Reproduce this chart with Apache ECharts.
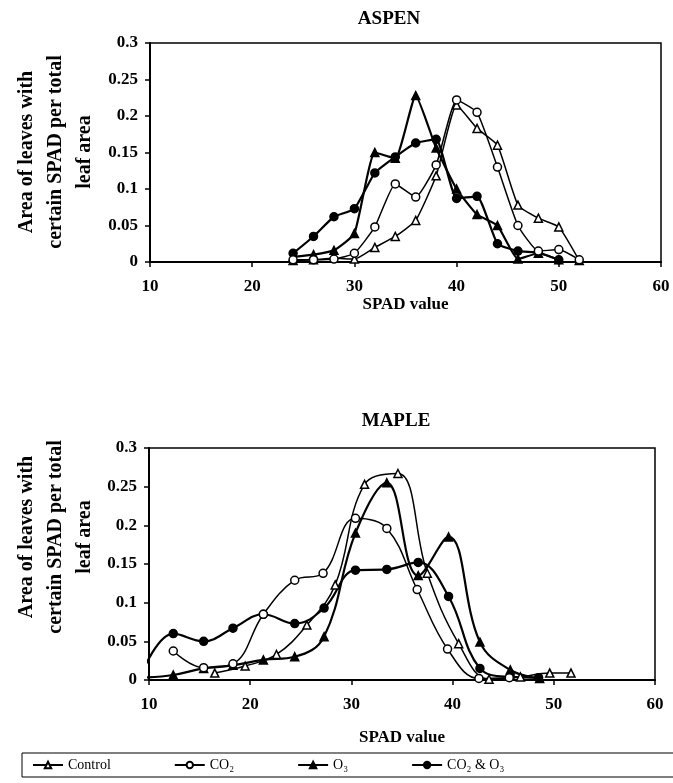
<!DOCTYPE html>
<html>
<head>
<meta charset="utf-8">
<script src="https://cdn.jsdelivr.net/npm/echarts@6/dist/echarts.min.js"></script>
<style>
  html, body { margin: 0; padding: 0; background: #fff; }
  #chart { width: 673px; height: 783px; }
</style>
</head>
<body>
<div id="chart"></div>
<script>
// ASPEN: all treatments share the same SPAD bins
const aspenX = [24, 26, 28, 30, 32, 34, 36, 38, 40, 42, 44, 46, 48, 50, 52]
const aspenControl = [0.002, 0.003, 0.005, 0.004, 0.02, 0.035, 0.057, 0.118, 0.215, 0.183, 0.16, 0.078, 0.06, 0.048, 0.002]
const aspenCO2 = [0.003, 0.003, 0.004, 0.012, 0.048, 0.107, 0.089, 0.133, 0.222, 0.205, 0.13, 0.05, 0.015, 0.017, 0.003]
const aspenO3 = [0.007, 0.01, 0.016, 0.039, 0.15, 0.142, 0.228, 0.156, 0.1, 0.065, 0.05, 0.004, 0.012, 0.003]
const aspenCO2O3 = [0.012, 0.035, 0.062, 0.073, 0.122, 0.144, 0.163, 0.168, 0.087, 0.09, 0.025, 0.015, 0.013, 0.003]

// MAPLE: each treatment has its own bins
const mapleControlX = [16.5, 19.5, 22.6, 25.6, 28.4, 31.3, 34.6, 37.5, 40.6, 43.6, 46.7, 49.6, 51.7]
const mapleControl = [0.009, 0.018, 0.033, 0.071, 0.123, 0.253, 0.267, 0.138, 0.047, 0.001, 0.004, 0.009, 0.009]
const mapleCO2X = [12.4, 15.4, 18.3, 21.3, 24.4, 27.2, 30.4, 33.5, 36.5, 39.5, 42.6, 45.6]
const mapleCO2 = [0.0375, 0.016, 0.021, 0.085, 0.129, 0.138, 0.209, 0.196, 0.117, 0.04, 0.002, 0.003]
const mapleO3X = [9.4, 12.4, 15.4, 18.3, 21.3, 24.4, 27.3, 30.4, 33.5, 36.6, 39.6, 42.7, 45.7, 48.6]
const mapleO3 = [0.003, 0.0065, 0.015, 0.019, 0.026, 0.03, 0.056, 0.19, 0.255, 0.135, 0.185, 0.049, 0.013, 0.002]
const mapleCO2O3X = [9.4, 12.4, 15.4, 18.3, 21.3, 24.4, 27.3, 30.4, 33.5, 36.6, 39.6, 42.7, 45.7, 48.5]
const mapleCO2O3 = [0.012, 0.06, 0.05, 0.067, 0.085, 0.073, 0.093, 0.142, 0.143, 0.152, 0.108, 0.015, 0.004, 0.003]

const seriesNames = ['Control', 'CO₂', 'O₃', 'CO₂ & O₃']
const yTitle = 'Area of leaves with\ncertain SPAD per total\nleaf area'

const serif = '"Liberation Serif", "Times New Roman", serif'

const looks = {
  'Control': { symbol: 'triangle', fill: '#fff', width: 1.5 },
  'CO₂': { symbol: 'circle', fill: '#fff', width: 1.5 },
  'O₃': { symbol: 'triangle', fill: '#000', width: 2.2 },
  'CO₂ & O₃': { symbol: 'circle', fill: '#000', width: 2.2 }
}

const pairs = (xs, ys) => ys.map((y, i) => [xs[i], y])

function makeSeries(name, data, idx, smooth) {
  const l = looks[name]
  return {
    type: 'line',
    name,
    xAxisIndex: idx,
    yAxisIndex: idx,
    data,
    smooth,
    symbol: l.symbol,
    symbolSize: 8,
    showAllSymbol: true,
    z: l.fill === '#fff' ? 3 : 2,
    lineStyle: { color: '#000', width: l.width },
    itemStyle: { color: l.fill, borderColor: '#000', borderWidth: 1.5 },
    emphasis: { disabled: true }
  }
}

function xAxisFor(idx, gap) {
  return {
    type: 'value',
    gridIndex: idx,
    min: 10,
    max: 60,
    interval: 10,
    name: 'SPAD value',
    nameLocation: 'middle',
    nameGap: gap,
    nameTextStyle: { color: '#000', fontFamily: serif, fontWeight: 'bold', fontSize: 17 },
    axisLine: { onZero: false, lineStyle: { color: '#000', width: 2 } },
    axisTick: { length: 5, lineStyle: { color: '#000', width: 1.5 } },
    axisLabel: { color: '#000', fontFamily: serif, fontWeight: 'bold', fontSize: 17, margin: 16 },
    splitLine: { show: false }
  }
}

function yAxisFor(idx) {
  return {
    type: 'value',
    gridIndex: idx,
    min: 0,
    max: 0.3,
    interval: 0.05,
    axisLine: { show: true, lineStyle: { color: '#000', width: 2 } },
    axisTick: { show: true, length: 5, lineStyle: { color: '#000', width: 1.5 } },
    axisLabel: { color: '#000', fontFamily: serif, fontWeight: 'bold', fontSize: 17, margin: 12 },
    splitLine: { show: false }
  }
}

const chart = echarts.init(document.getElementById('chart'))
chart.setOption({
  animation: false,
  backgroundColor: '#fff',
  title: [
    { text: 'ASPEN', left: 389, top: 10, padding: 0, textAlign: 'center',
      textStyle: { fontFamily: serif, fontWeight: 'bold', fontSize: 19, color: '#000' } },
    { text: 'MAPLE', left: 396, top: 412, padding: 0, textAlign: 'center',
      textStyle: { fontFamily: serif, fontWeight: 'bold', fontSize: 19, color: '#000' } }
  ],
  graphic: [
    { type: 'text', x: 56, y: 152, rotation: Math.PI / 2,
      style: { text: yTitle, font: 'bold 20px ' + serif, fill: '#000', lineHeight: 29,
        align: 'center', verticalAlign: 'middle', textAlign: 'center', textVerticalAlign: 'middle' } },
    { type: 'text', x: 56, y: 537, rotation: Math.PI / 2,
      style: { text: yTitle, font: 'bold 20px ' + serif, fill: '#000', lineHeight: 29,
        align: 'center', verticalAlign: 'middle', textAlign: 'center', textVerticalAlign: 'middle' } }
  ],
  legend: {
    data: seriesNames,
    left: 22,
    top: 753,
    width: 900,
    orient: 'horizontal',
    padding: [5, 200, 5, 10],
    itemGap: 63,
    itemWidth: 30,
    itemHeight: 8,
    borderColor: '#000',
    borderWidth: 1,
    textStyle: { color: '#000', fontFamily: serif, fontSize: 14 }
  },
  grid: [
    { left: 150, top: 43, width: 511, height: 219, show: true, borderColor: '#000', borderWidth: 1.5 },
    { left: 149, top: 448, width: 506, height: 232, show: true, borderColor: '#000', borderWidth: 1.5 }
  ],
  xAxis: [xAxisFor(0, 30), xAxisFor(1, 49)],
  yAxis: [yAxisFor(0), yAxisFor(1)],
  series: [
    makeSeries('Control', pairs(aspenX, aspenControl), 0, 0.15),
    makeSeries('CO₂', pairs(aspenX, aspenCO2), 0, 0.15),
    makeSeries('O₃', pairs(aspenX, aspenO3), 0, 0.15),
    makeSeries('CO₂ & O₃', pairs(aspenX, aspenCO2O3), 0, 0.15),
    makeSeries('Control', pairs(mapleControlX, mapleControl), 1, 0.4),
    makeSeries('CO₂', pairs(mapleCO2X, mapleCO2), 1, 0.4),
    makeSeries('O₃', pairs(mapleO3X, mapleO3), 1, 0.4),
    makeSeries('CO₂ & O₃', pairs(mapleCO2O3X, mapleCO2O3), 1, 0.4)
  ]
})
</script>
</body>
</html>
